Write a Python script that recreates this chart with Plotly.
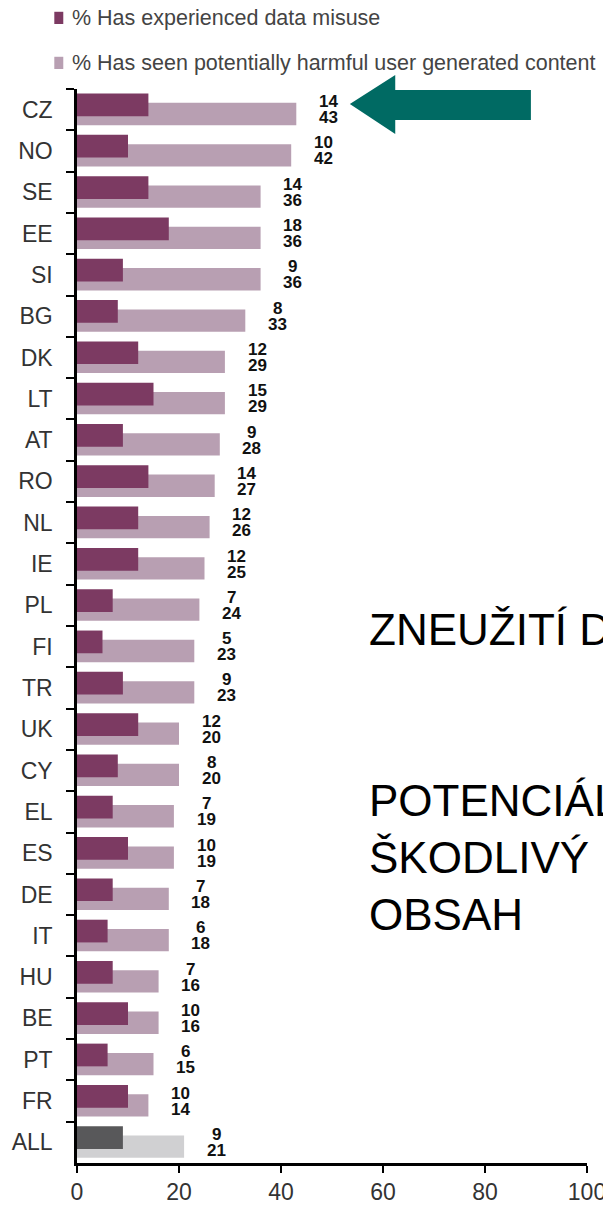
import plotly.graph_objects as go

countries = ["CZ", "NO", "SE", "EE", "SI", "BG", "DK", "LT", "AT", "RO", "NL", "IE", "PL",
             "FI", "TR", "UK", "CY", "EL", "ES", "DE", "IT", "HU", "BE", "PT", "FR", "ALL"]
misuse = [14, 10, 14, 18, 9, 8, 12, 15, 9, 14, 12, 12, 7, 5, 9, 12, 8, 7, 10, 7, 6, 7, 10, 6, 10, 9]
harmful = [43, 42, 36, 36, 36, 33, 29, 29, 28, 27, 26, 25, 24, 23, 23, 20, 20, 19, 19, 18, 18,
           16, 16, 15, 14, 21]

legend_labels = ["% Has experienced data misuse",
                 "% Has seen potentially harmful user generated content"]
x_ticks = [0, 20, 40, 60, 80, 100]

DARK = "#7c3a62"
LIGHT = "#b89fb2"
DARK_ALL = "#58585a"
LIGHT_ALL = "#d0d0d2"
TEAL = "#006a63"
FONT = "Liberation Sans, Arial, sans-serif"

# the page body keeps the browser's 8px margin, so the figure is 8px smaller
PAGE_PAD = 8

dark_colors = [DARK_ALL if c == "ALL" else DARK for c in countries]
light_colors = [LIGHT_ALL if c == "ALL" else LIGHT for c in countries]

fig = go.Figure()
fig.add_trace(go.Bar(
    name=legend_labels[1], y=countries, x=harmful, orientation="h",
    marker_color=light_colors, marker_line_width=0,
    offset=-0.165, width=0.54, showlegend=False,
))
fig.add_trace(go.Bar(
    name=legend_labels[0], y=countries, x=misuse, orientation="h",
    marker_color=dark_colors, marker_line_width=0,
    offset=-0.39, width=0.55, showlegend=False,
))

# stacked value labels to the right of each pair of bars
annotations = []
for c, m, h in zip(countries, misuse, harmful):
    for val, shift in ((m, 8), (h, -8)):
        annotations.append(dict(
            x=h + 6.3, y=c, xref="x", yref="y", text=str(val), showarrow=False,
            yshift=shift, xanchor="center", yanchor="middle",
            font=dict(family=FONT, size=17, color="#111111", weight="bold"),
        ))

# hand-made legend (square + text) above the plot
for i, (lab, col) in enumerate(zip(legend_labels, [DARK, LIGHT])):
    y_mid = 1.0662 - i * 0.0419
    fig.add_shape(type="rect", xref="paper", yref="paper",
                  x0=-0.0445, x1=-0.0269, y0=y_mid - 0.0057, y1=y_mid + 0.0057,
                  fillcolor=col, line_width=0)
    annotations.append(dict(
        x=-0.0137, y=y_mid, xref="paper", yref="paper", text=lab, showarrow=False,
        xanchor="left", yanchor="middle",
        font=dict(family=FONT, size=21.5, color="#444444"),
    ))

annotations.append(dict(
    x=0.568, y=0.4963, xref="paper", yref="paper", text="ZNEUŽITÍ DAT",
    showarrow=False, xanchor="left", yanchor="middle", align="left",
    font=dict(family=FONT, size=44, color="#000000"),
))
annotations.append(dict(
    x=0.568, y=0.284, xref="paper", yref="paper",
    text="POTENCIÁLNĚ<br>ŠKODLIVÝ<br>OBSAH",
    showarrow=False, xanchor="left", yanchor="middle", align="left",
    font=dict(family=FONT, size=44, color="#000000"),
))

# teal arrow pointing at CZ
fig.add_shape(
    type="path", xref="x", yref="paper", fillcolor=TEAL, line_width=0,
    path="M 53.5,0.986 L 62.4,1.013 L 62.4,0.9991 L 89,0.9991 "
         "L 89,0.9711 L 62.4,0.9711 L 62.4,0.9581 Z",
)

fig.update_layout(
    width=611 - PAGE_PAD, height=1205 - PAGE_PAD,
    margin=dict(l=77 - PAGE_PAD, r=24, t=89 - PAGE_PAD, b=42),
    paper_bgcolor="white", plot_bgcolor="white",
    barmode="overlay",
    font=dict(family=FONT, color="#333333"),
    annotations=annotations,
    xaxis=dict(
        range=[0, 100], tickvals=x_ticks, ticks="outside", ticklen=7, tickwidth=2,
        tickcolor="black", showline=True, linecolor="black", linewidth=2.5,
        showgrid=False, zeroline=False, automargin=False,
        tickfont=dict(size=23, color="#333333"),
    ),
    yaxis=dict(
        type="category", categoryorder="array", categoryarray=countries,
        range=[len(countries) - 0.5, -0.5], tickson="boundaries", ticks="outside",
        ticklen=8, tickwidth=2, tickcolor="black", showline=True, linecolor="black",
        linewidth=2.5, showgrid=False, zeroline=False, ticklabelstandoff=17,
        automargin=False, tickfont=dict(size=23, color="#333333"),
    ),
)

fig.write_html("out.html")
